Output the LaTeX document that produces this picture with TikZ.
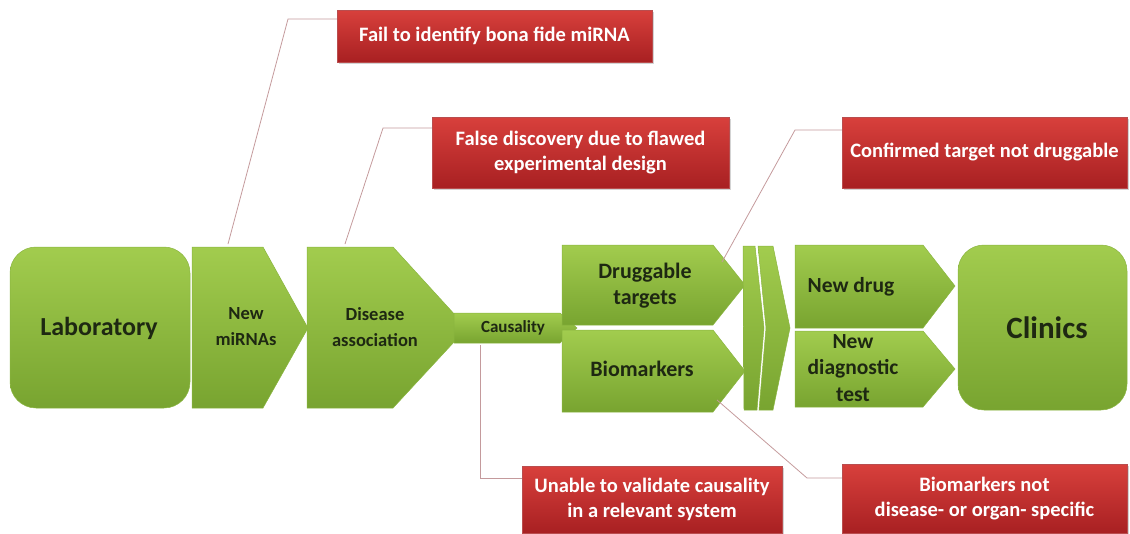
\documentclass[tikz,border=0pt]{standalone}
\usepackage{fontspec}
\setmainfont{Carlito}
\usetikzlibrary{shadows}
\definecolor{gtop}{HTML}{A2CC4E}
\definecolor{gbot}{HTML}{78A430}
\definecolor{gedge}{HTML}{8AB540}
\definecolor{rtop}{HTML}{D8403C}
\definecolor{rbot}{HTML}{A82022}
\definecolor{gtext}{HTML}{1E2812}
\definecolor{cline}{HTML}{C49A9C}
\tikzset{
  gshape/.style={top color=gtop, bottom color=gbot, draw=gedge, line width=0.5pt},
  glabel/.style={text=gtext, font=\bfseries, align=center, inner sep=0pt},
  redbox/.style={top color=rtop, bottom color=rbot, draw=rbot!80!white, line width=0.4pt,
    text=white, font=\bfseries\fontsize{20.5}{25}\selectfont, align=center,
    drop shadow={opacity=0.35, shadow xshift=2pt, shadow yshift=-2pt}, inner sep=0pt},
  callout/.style={draw=cline, line width=0.8pt},
}
\begin{document}
\begin{tikzpicture}[x=1pt,y=-1pt]
\useasboundingbox (0,0) rectangle (1130,533);
% green shapes
\draw[gshape, rounded corners=26pt] (10,247) rectangle (190,408);
\draw[gshape] (192,247) -- (263,247) -- (308,328) -- (263,408) -- (192,408) -- cycle;
\draw[gshape] (307,247) -- (393,247) -- (467,328) -- (393,408) -- (307,408) -- cycle;
\draw[gshape] (454,313) -- (560,313) -- (577,328) -- (560,343) -- (454,343) -- cycle;
\draw[gshape] (562,245) -- (713,245) -- (745,285) -- (713,325) -- (562,325) -- cycle;
\draw[gshape] (562,330) -- (713,330) -- (745,371) -- (713,412) -- (562,412) -- cycle;
\draw[gshape] (743,246) -- (755,246) -- (764,328) -- (757,410) -- (744,410) -- cycle;
\draw[gshape] (758,246) -- (773,246) -- (790,328) -- (773,410) -- (759,410) -- (766,328) -- cycle;
\draw[gshape] (795,245) -- (923,245) -- (955,286) -- (923,328) -- (795,328) -- cycle;
\draw[gshape] (795,331) -- (923,331) -- (955,369) -- (923,407) -- (795,407) -- cycle;
\draw[gshape, rounded corners=26pt] (958,245) rectangle (1127,410);
% labels
\node[glabel, font=\bfseries\fontsize{26}{30}\selectfont] (lab) at (99,328) {Laboratory};
\node[glabel, font=\bfseries\fontsize{18.5}{26}\selectfont] (nm) at (246,327) {New\\miRNAs};
\node[glabel, font=\bfseries\fontsize{18.5}{26}\selectfont] (dis) at (375,327) {Disease\\association};
\node[glabel, font=\bfseries\fontsize{17}{20}\selectfont] (cau) at (513,328) {Causality};
\node[glabel, font=\bfseries\fontsize{22}{26}\selectfont] (drg) at (645,286) {Druggable\\targets};
\node[glabel, font=\bfseries\fontsize{22}{26}\selectfont] (bio) at (642,369) {Biomarkers};
\node[glabel, font=\bfseries\fontsize{21.5}{26}\selectfont] (nd) at (851,287) {New drug};
\node[glabel, font=\bfseries\fontsize{21.5}{26.5}\selectfont] (ndt) at (853,368) {New\\diagnostic\\test};
\node[glabel, font=\bfseries\fontsize{31}{34}\selectfont] (cli) at (1047,328) {Clinics};
% red boxes
\node[redbox, minimum width=315pt, minimum height=52pt] (r1) at (494.5,36) {Fail to identify bona fide miRNA};
\node[redbox, minimum width=297pt, minimum height=71pt] (r2) at (580.5,152.5) {False discovery due to flawed\\experimental design};
\node[redbox, minimum width=285pt, minimum height=71pt] (r3) at (984.5,152.5) {Confirmed target not druggable};
\node[redbox, minimum width=260pt, minimum height=67pt] (r4) at (652,499.5) {Unable to validate causality\\in a relevant system};
\node[redbox, minimum width=285pt, minimum height=69pt] (r5) at (984.5,498.5) {Biomarkers not\\disease- or organ- specific};
% callout points
\coordinate (b1) at (288,19);   \coordinate (e1) at (228,244);
\coordinate (b2) at (383,128);  \coordinate (e2) at (345,244);
\coordinate (b3) at (795,130);  \coordinate (e3) at (722,262);
\coordinate (s4) at (480,345);  \coordinate (b4) at (480,478);
\coordinate (s5) at (717,400);  \coordinate (b5) at (807,478);
\draw[callout] (r1.west |- b1) -- (b1) -- (e1);
\draw[callout] (r2.west |- b2) -- (b2) -- (e2);
\draw[callout] (r3.west |- b3) -- (b3) -- (e3);
\draw[callout] (s4) -- (b4) -- (r4.west |- b4);
\draw[callout] (s5) -- (b5) -- (r5.west |- b5);
\end{tikzpicture}
\end{document}
